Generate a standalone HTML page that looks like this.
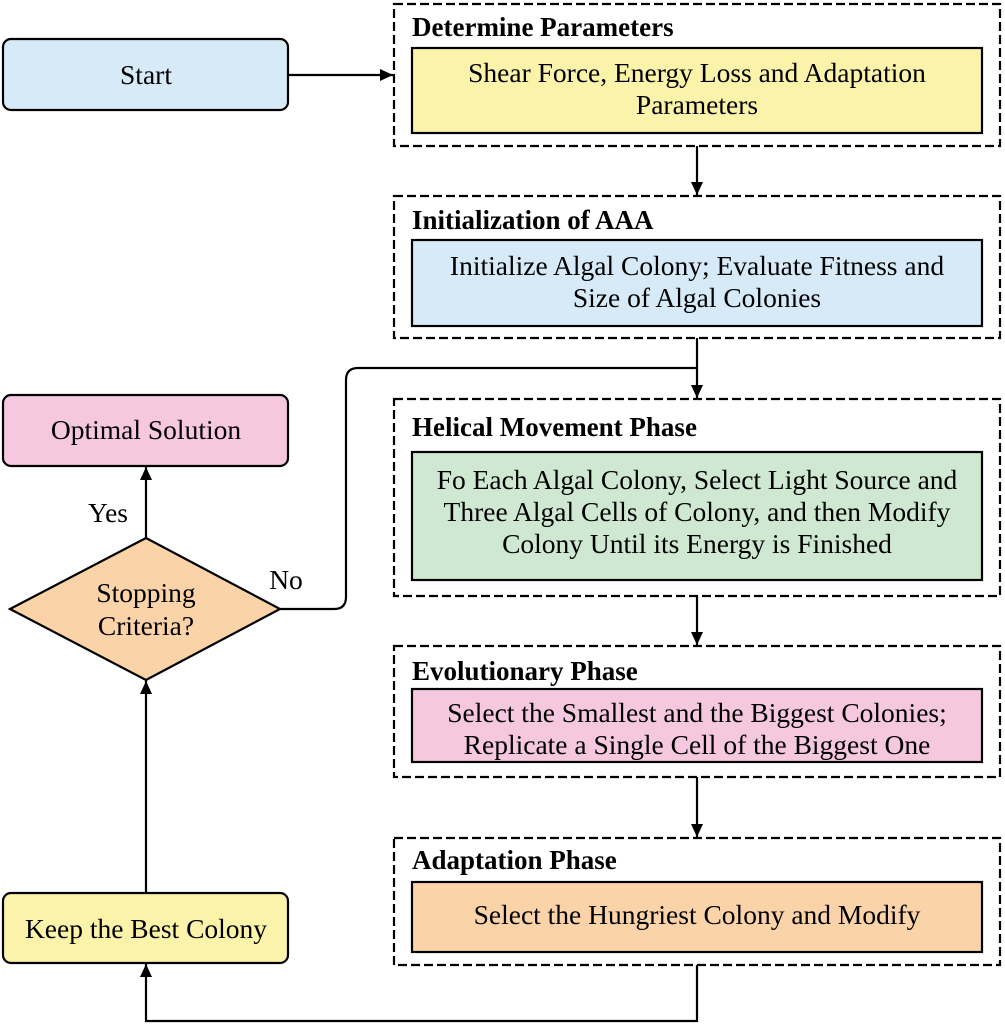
<!DOCTYPE html>
<html><head><style>
body{margin:0;background:#fff;}
svg text{font-family:"Liberation Serif",serif;fill:#000;}
</style></head><body>
<svg width="1005" height="1026" viewBox="0 0 1005 1026" xmlns="http://www.w3.org/2000/svg">
<defs><marker id="a" markerWidth="14" markerHeight="14" refX="13" refY="6" orient="auto" markerUnits="userSpaceOnUse"><path d="M0,0 L13,6 L0,12 z" fill="#000"/></marker></defs>
<g stroke="#000" stroke-width="2.2" fill="none">
<rect x="3" y="39" width="285" height="71" rx="8" fill="#d6eaf8"/>
<rect x="3" y="395" width="285" height="71" rx="8" fill="#f5c8df"/>
<rect x="3" y="893" width="285" height="70" rx="8" fill="#fbf3a9"/>
<polygon points="146,538 280,609 146,680 10,609" fill="#fbd3a8"/>
<g stroke-dasharray="9,4">
<rect x="394" y="4" width="606" height="142"/>
<rect x="394" y="196" width="606" height="142"/>
<rect x="394" y="399" width="606" height="197"/>
<rect x="394" y="646" width="606" height="131"/>
<rect x="394" y="838" width="606" height="127"/>
</g>
<rect x="412" y="48" width="570" height="85" fill="#fbf3a9"/>
<rect x="412" y="240" width="570" height="86" fill="#d6eaf8"/>
<rect x="412" y="452" width="570" height="128" fill="#cfe8d2"/>
<rect x="412" y="689" width="570" height="73" fill="#f5c8df"/>
<rect x="412" y="882" width="570" height="70" fill="#fbd3a8"/>
<line x1="288" y1="75" x2="393" y2="75" marker-end="url(#a)"/>
<line x1="697" y1="146" x2="697" y2="195" marker-end="url(#a)"/>
<line x1="697" y1="338" x2="697" y2="398" marker-end="url(#a)"/>
<line x1="697" y1="596" x2="697" y2="645" marker-end="url(#a)"/>
<line x1="697" y1="777" x2="697" y2="837" marker-end="url(#a)"/>
<path d="M280,609 L334,609 Q346,609 346,597 L346,380 Q346,368 358,368 L697,368" />
<path d="M697,965 L697,1021 L146,1021 L146,964" marker-end="url(#a)"/>
<line x1="146" y1="893" x2="146" y2="681" marker-end="url(#a)"/>
<line x1="146" y1="538" x2="146" y2="467" marker-end="url(#a)"/>
</g>
<g font-size="27.5" text-anchor="middle">
<text x="146" y="84">Start</text>
<text x="146" y="439">Optimal Solution</text>
<text x="146" y="938">Keep the Best Colony</text>
<text x="146" y="602">Stopping</text>
<text x="146" y="635">Criteria?</text>
<text x="108" y="522">Yes</text>
<text x="286" y="589">No</text>
<text x="697" y="82">Shear Force, Energy Loss and Adaptation</text>
<text x="697" y="114">Parameters</text>
<text x="697" y="275">Initialize Algal Colony; Evaluate Fitness and</text>
<text x="697" y="307">Size of Algal Colonies</text>
<text x="697" y="489">Fo Each Algal Colony, Select Light Source and</text>
<text x="697" y="521">Three Algal Cells of Colony, and then Modify</text>
<text x="697" y="553">Colony Until its Energy is Finished</text>
<text x="697" y="722">Select the Smallest and the Biggest Colonies;</text>
<text x="697" y="754">Replicate a Single Cell of the Biggest One</text>
<text x="697" y="924">Select the Hungriest Colony and Modify</text>
</g>
<g font-size="27" font-weight="bold">
<text x="412" y="36">Determine Parameters</text>
<text x="412" y="229">Initialization of AAA</text>
<text x="412" y="436">Helical Movement Phase</text>
<text x="412" y="680">Evolutionary Phase</text>
<text x="412" y="869">Adaptation Phase</text>
</g>
</svg>
</body></html>
